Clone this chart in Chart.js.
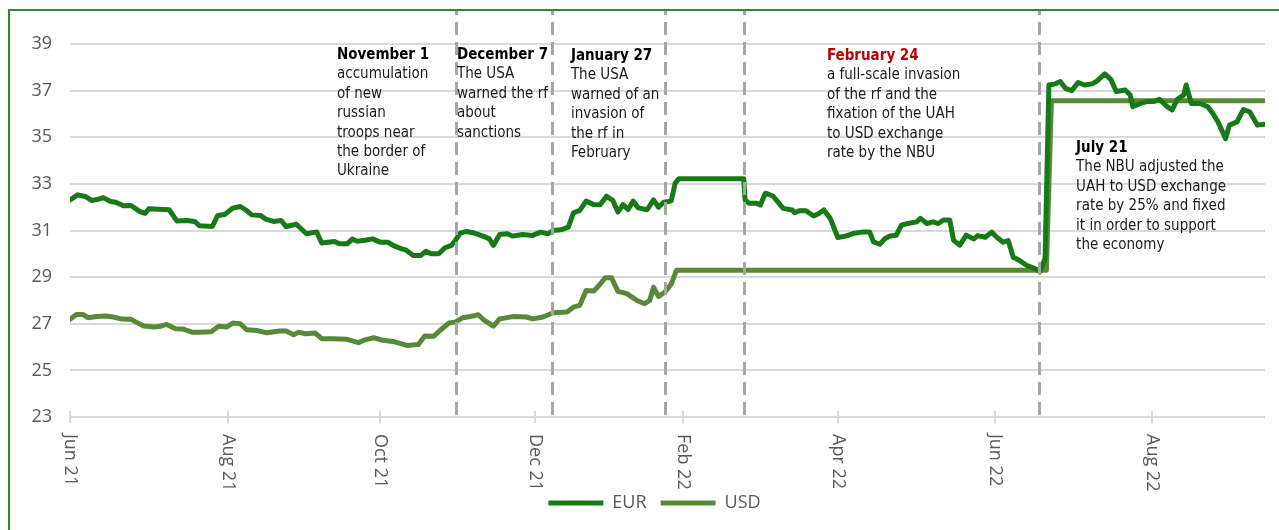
<!DOCTYPE html>
<html>
<head>
<meta charset="utf-8">
<script src="https://cdn.jsdelivr.net/npm/chart.js@4.4.1/dist/chart.umd.min.js"></script>
<style>
  html, body { margin: 0; padding: 0; background: #fff; }
  #wrap { position: relative; width: 1279px; height: 530px; }
</style>
</head>
<body>
<div id="wrap"><canvas id="chart"></canvas></div>
<script>
// x values are day positions counted from the start of June 2021
const tickDays = [0, 62, 122, 183, 241, 302, 364, 425.5];
const tickLabels = ['Jun 21', 'Aug 21', 'Oct 21', 'Dec 21', 'Feb 22', 'Apr 22', 'Jun 22', 'Aug 22'];

const eurDays = [0, 3, 6, 8.5, 11, 13, 16, 18, 21, 24, 27.5, 29.5, 31, 35, 39, 42, 46, 49, 51, 56,
  58, 61, 64, 67, 69, 71.5, 75, 77, 80, 83, 85, 89, 93, 97, 99, 104, 106, 109, 111, 113,
  116, 119, 122, 125, 127, 130.5, 132, 135, 138, 140, 142, 145, 147.5, 150, 151.5, 153.5, 156, 159, 162.5, 165,
  166.5, 169, 172, 174, 178, 182, 185, 188, 190, 193, 196, 198, 200.5, 203, 206, 208.5, 211, 213.5, 215.5, 217.5,
  219.5, 221.5, 223.5, 227, 229.5, 231.5, 233.5, 235.5, 236.5, 238, 239.5, 265, 265.5, 267, 270, 271.5, 273.5, 276.5, 280.5, 284,
  285, 287, 289.5, 292.5, 294.5, 296.5, 299, 302, 305, 308, 312, 314.5, 316, 318.5, 320.5, 322.5, 325, 327, 329.5, 333,
  334.5, 337, 339.5, 341.5, 343.5, 346, 347.5, 350, 352.5, 355.5, 357, 360, 362.5, 364.5, 367, 369, 371, 373.5, 376.5, 379,
  381.5, 383.5, 385, 387.5, 389.5, 391.5, 394, 396.5, 399, 402, 404, 407, 409.5, 411.5, 415, 417, 418, 421, 423.5, 426,
  428.5, 431.5, 433.5, 435.5, 438, 439, 441, 444.5, 447.5, 449.5, 451.5, 454.5, 456, 459, 461.5, 464, 467, 469.5];
const eurRates = [32.31, 32.53, 32.46, 32.29, 32.34, 32.41, 32.24, 32.21, 32.06, 32.07, 31.81, 31.74, 31.93, 31.91, 31.89, 31.41, 31.43, 31.39, 31.20, 31.17,
  31.63, 31.70, 31.96, 32.03, 31.89, 31.67, 31.64, 31.49, 31.39, 31.43, 31.17, 31.27, 30.86, 30.94, 30.46, 30.53, 30.43, 30.43, 30.63, 30.54,
  30.58, 30.64, 30.50, 30.50, 30.36, 30.21, 30.17, 29.93, 29.93, 30.11, 30.00, 30.00, 30.26, 30.36, 30.57, 30.89, 30.96, 30.89, 30.76, 30.64,
  30.36, 30.83, 30.86, 30.76, 30.83, 30.79, 30.93, 30.86, 31.00, 31.03, 31.14, 31.76, 31.86, 32.26, 32.11, 32.10, 32.47, 32.29, 31.79, 32.11,
  31.90, 32.26, 31.97, 31.89, 32.31, 32.00, 32.21, 32.24, 32.28, 33.03, 33.22, 33.22, 32.31, 32.17, 32.17, 32.09, 32.60, 32.48, 31.95, 31.88,
  31.76, 31.85, 31.85, 31.62, 31.73, 31.88, 31.52, 30.70, 30.76, 30.87, 30.94, 30.94, 30.51, 30.41, 30.65, 30.76, 30.80, 31.23, 31.30, 31.37,
  31.52, 31.30, 31.37, 31.30, 31.45, 31.45, 30.58, 30.37, 30.80, 30.64, 30.78, 30.71, 30.93, 30.71, 30.50, 30.57, 29.85, 29.71, 29.49, 29.39,
  29.24, 29.80, 37.24, 37.29, 37.39, 37.10, 37.00, 37.35, 37.24, 37.29, 37.42, 37.72, 37.46, 36.96, 37.03, 36.81, 36.31, 36.45, 36.53, 36.53,
  36.63, 36.31, 36.17, 36.63, 36.81, 37.24, 36.45, 36.45, 36.31, 36.02, 35.66, 34.94, 35.52, 35.66, 36.19, 36.09, 35.52, 35.56];

const usdDays = [0, 2.5, 5, 7, 10.5, 14, 17, 20.5, 24, 26, 29, 33, 35.5, 38, 41.5, 44.5, 48, 51, 55.5, 58.5,
  61.5, 64, 67, 69.5, 73.5, 77.5, 82.5, 85, 88, 90, 92.5, 96.5, 99, 103.5, 109, 113.5, 116, 119.5, 123, 127,
  132.5, 137, 139.5, 143, 145.5, 149, 151.5, 154.5, 158.5, 160.5, 163, 166.5, 169, 174.5, 179.5, 182, 186, 190, 195.5, 198,
  200.5, 203, 206, 208, 210.5, 213, 215.5, 219, 223, 226, 228, 229.5, 231.5, 234, 236.5, 238.5, 384, 386, 469.5];
const usdRates = [27.19, 27.40, 27.40, 27.26, 27.31, 27.33, 27.29, 27.20, 27.19, 27.07, 26.90, 26.86, 26.89, 26.97, 26.79, 26.77, 26.64, 26.64, 26.66, 26.89,
  26.86, 27.03, 27.00, 26.74, 26.71, 26.61, 26.69, 26.69, 26.53, 26.64, 26.57, 26.60, 26.36, 26.36, 26.33, 26.19, 26.31, 26.40, 26.29, 26.24,
  26.07, 26.11, 26.47, 26.46, 26.71, 27.03, 27.07, 27.26, 27.33, 27.39, 27.14, 26.90, 27.21, 27.31, 27.29, 27.21, 27.29, 27.47, 27.50, 27.71,
  27.79, 28.43, 28.40, 28.64, 28.97, 28.97, 28.39, 28.29, 28.00, 27.86, 28.00, 28.57, 28.17, 28.36, 28.71, 29.29, 29.29, 36.57, 36.57];

// dashed event markers
const eventDays = [152, 189.5, 234, 265, 381];

const notes = [
  { day: 105, top: 15, title: 'November 1', red: false,
    lines: ['accumulation', 'of new', 'russian', 'troops near', 'the border of', 'Ukraine'] },
  { day: 152.2, top: 15, title: 'December 7', red: false,
    lines: ['The USA', 'warned the rf', 'about', 'sanctions'] },
  { day: 197, top: 16, title: 'January 27', red: false,
    lines: ['The USA', 'warned of an', 'invasion of', 'the rf in', 'February'] },
  { day: 297.7, top: 16, title: 'February 24', red: true,
    lines: ['a full-scale invasion', 'of the rf and the', 'fixation of the UAH', 'to USD exchange', 'rate by the NBU'] },
  { day: 395.7, top: 108, title: 'July 21', red: false,
    lines: ['The NBU adjusted the', 'UAH to USD exchange', 'rate by 25% and fixed', 'it in order to support', 'the economy'] }
];

const AXIS_FONT = '"Open Sans", "Noto Sans", sans-serif';
const NOTE_FONT = '"DejaVu Sans Condensed", "DejaVu Sans", sans-serif';

const overlay = {
  id: 'overlay',
  afterLayout(chart) {
    // legend sits a little right of the canvas centre
    chart.legend.left += 9;
    chart.legend.right += 9;
  },
  afterDatasetsDraw(chart) {
    const { ctx, chartArea, scales: { x } } = chart;
    ctx.save();
    ctx.strokeStyle = '#a6a6a6';
    ctx.lineWidth = 3;
    ctx.setLineDash([13, 7]);
    eventDays.forEach(d => {
      const px = Math.round(x.getPixelForValue(d)) + 0.5;
      ctx.beginPath();
      ctx.moveTo(px, chartArea.bottom - 2);
      ctx.lineTo(px, 11);
      ctx.stroke();
    });
    ctx.restore();
  },
  afterDraw(chart) {
    const { ctx, chartArea, scales: { x } } = chart;
    ctx.save();
    // x tick marks crossing the base line
    ctx.strokeStyle = '#d9d9d9';
    ctx.lineWidth = 2;
    tickDays.forEach(d => {
      const px = Math.round(x.getPixelForValue(d));
      ctx.beginPath();
      ctx.moveTo(px, chartArea.bottom - 6);
      ctx.lineTo(px, chartArea.bottom + 6);
      ctx.stroke();
    });
    // rotated month labels, reading top to bottom
    ctx.fillStyle = '#595959';
    ctx.font = '18px ' + AXIS_FONT;
    ctx.textAlign = 'left';
    ctx.textBaseline = 'middle';
    tickDays.forEach((d, i) => {
      const px = x.getPixelForValue(d);
      ctx.save();
      ctx.translate(px, chartArea.bottom + 17);
      ctx.rotate(Math.PI / 2);
      ctx.fillText(tickLabels[i], 0, 0);
      ctx.restore();
    });
    // event notes
    ctx.textBaseline = 'alphabetic';
    notes.forEach(n => {
      const px = x.getPixelForValue(n.day);
      let py = chartArea.top + n.top;
      ctx.font = 'bold 15px ' + NOTE_FONT;
      ctx.fillStyle = n.red ? '#c00000' : '#000000';
      ctx.fillText(n.title, px, py);
      ctx.font = '15px ' + NOTE_FONT;
      ctx.fillStyle = '#1a1a1a';
      n.lines.forEach(line => {
        py += 19.4;
        ctx.fillText(line, px, py);
      });
    });
    // outer frame
    ctx.strokeStyle = '#2f8a2f';
    ctx.lineWidth = 2;
    ctx.setLineDash([]);
    ctx.strokeRect(9, 10, 1400, 700);
    ctx.restore();
  }
};

const toPoints = (days, rates) => days.map((d, i) => ({ x: d, y: rates[i] }));

new Chart(document.getElementById('chart'), {
  type: 'line',
  data: {
    datasets: [
      {
        label: 'EUR',
        data: toPoints(eurDays, eurRates),
        borderColor: '#167a16',
        backgroundColor: '#167a16',
        borderWidth: 5,
        borderCapStyle: 'round',
        borderJoinStyle: 'round',
        pointRadius: 0,
        tension: 0
      },
      {
        label: 'USD',
        data: toPoints(usdDays, usdRates),
        borderColor: '#568a38',
        backgroundColor: '#568a38',
        borderWidth: 5,
        borderCapStyle: 'round',
        borderJoinStyle: 'round',
        pointRadius: 0,
        tension: 0
      }
    ]
  },
  options: {
    responsive: true,
    maintainAspectRatio: false,
    animation: false,
    devicePixelRatio: 1,
    layout: { padding: { left: 26, right: 14, top: 44, bottom: 8 } },
    plugins: {
      tooltip: { enabled: false },
      legend: {
        position: 'bottom',
        labels: {
          usePointStyle: true,
          pointStyle: 'line',
          pointStyleWidth: 55,
          boxHeight: 5,
          padding: 14,
          color: '#595959',
          font: { family: AXIS_FONT, size: 18 }
        }
      }
    },
    scales: {
      x: {
        type: 'linear',
        min: 0,
        max: 470,
        grid: { display: false },
        border: { display: false },
        ticks: { display: false },
        afterFit(scale) { scale.height = 63; }
      },
      y: {
        min: 23,
        max: 39,
        ticks: {
          stepSize: 2,
          padding: 18,
          color: '#595959',
          font: { family: AXIS_FONT, size: 18 }
        },
        grid: { color: '#d9d9d9', lineWidth: 2, drawTicks: false },
        border: { display: false },
        afterFit(scale) { scale.width = 44; }
      }
    }
  },
  plugins: [overlay]
});
</script>
</body>
</html>
